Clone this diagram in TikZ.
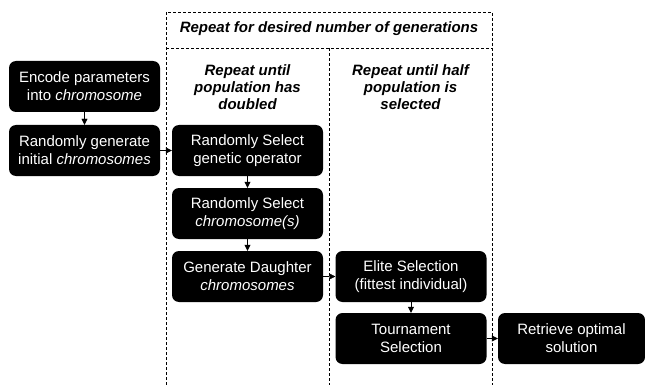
\documentclass[tikz,border=0pt]{standalone}
\usepackage{fontspec}
\setmainfont{Liberation Sans}
\usetikzlibrary{arrows.meta}
\begin{document}
\begin{tikzpicture}[x=1pt,y=-1pt, font=\fontsize{15}{18}\selectfont, line join=round, >={Triangle[length=6pt,width=6pt]},
		stage/.style={fill=black, text=white, rounded corners=7pt, minimum width=151pt, minimum height=51pt, align=center, inner sep=0pt},
		frame/.style={dash pattern=on 3pt off 2pt, line width=0.8pt},
		title/.style={font=\fontsize{15}{17}\selectfont\bfseries\itshape, align=center}]
		\useasboundingbox (0,0) rectangle (645,385);
		\def\xl{166}
		\def\xm{329}
		\def\xr{492}
		% dashed frames
		\draw[frame] (\xl,385)--(\xl,12)--(\xr,12)--(\xr,385);
		\draw[frame] (\xl,48)--(\xr,48);
		\draw[frame] (\xm,48)--(\xm,385);
		\node[title] (tgen) at (329,29) {Repeat for desired number of generations};
		\node[title] (tdbl) at (247.5,87) {Repeat until\\population has\\doubled};
		\node[title] (thalf) at (410.5,87) {Repeat until half\\population is\\selected};
		% stages
		\node[stage] (encode) at (84.5,86.5) {Encode parameters\\into \textit{chromosome}};
		\node[stage] (init) at (84.5,150.5) {Randomly generate\\initial \textit{chromosomes}};
		\node[stage] (selop) at (247.5,150.5) {Randomly Select\\genetic operator};
		\node[stage] (selchr) at (247.5,213.5) {Randomly Select\\\textit{chromosome(s)}};
		\node[stage] (daughter) at (247.5,276.5) {Generate Daughter\\\textit{chromosomes}};
		\node[stage] (elite) at (411,276.5) {Elite Selection\\(fittest individual)};
		\node[stage] (tourn) at (411,338.5) {Tournament\\Selection};
		\node[stage, minimum width=147pt] (best) at (571.5,338.5) {Retrieve optimal\\solution};
		% arrows
		\draw[->] (encode)--(init);
		\draw[->] (init)--(selop);
		\draw[->] (selop)--(selchr);
		\draw[->] (selchr)--(daughter);
		\draw[->] (daughter)--(elite);
		\draw[->] (elite)--(tourn);
		\draw[->] (tourn)--(best);
	\end{tikzpicture}
\end{document}
